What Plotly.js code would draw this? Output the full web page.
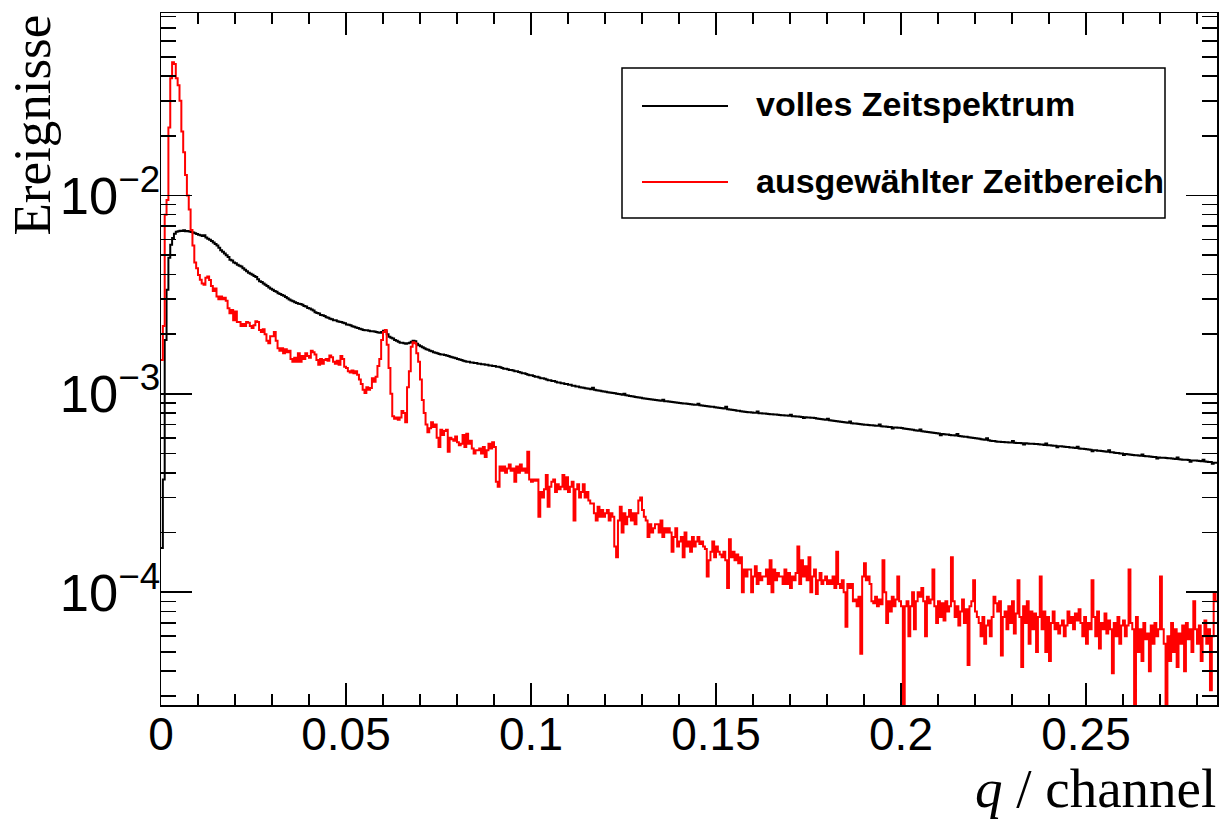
<!DOCTYPE html>
<html><head><meta charset="utf-8">
<script src="https://cdn.plot.ly/plotly-3.0.1.min.js"></script>
<style>html,body{margin:0;padding:0;background:#fff}#chart{width:1221px;height:822px}</style>
</head><body><div id="chart"></div>
<script>
// histogram binning
const binStart = 0;
const binWidth = 0.0005;
const seriesNames = ["volles Zeitspektrum", "ausgewählter Zeitbereich"];
const seriesColors = ["#000000", "#ff0000"];

// Ereignisse per bin, full time spectrum
const volles = [
0.000167,0.00037,0.00187,0.00335,0.00485,0.00564,0.0061,0.00641,0.00656,0.0066,
0.00665,0.00662,0.00668,0.0066,0.00663,0.00658,0.00655,0.0065,0.00645,0.0064,
0.00635,0.0063,0.00625,0.0063,0.00615,0.00605,0.00598,0.0059,0.0058,0.0057,
0.0056,0.00545,0.0053,0.0052,0.0051,0.005,0.0049,0.00475,0.0047,0.0046,
0.00455,0.00448,0.00442,0.00438,0.0043,0.00422,0.00415,0.00408,0.00403,0.00398,
0.00393,0.00388,0.00378,0.0037,0.00366,0.0036,0.00355,0.0035,0.00344,0.00339,
0.00335,0.0033,0.00327,0.00322,0.00319,0.00315,0.00312,0.00308,0.00303,0.00299,
0.00296,0.00293,0.0029,0.00287,0.00285,0.00284,
0.00281,0.00277,0.00276,0.00271,0.00269,0.00266,0.00263,0.00258,0.00256,
0.00254,0.0025,0.00249,0.00247,0.00243,0.00242,0.00239,
0.00238,0.00235,0.00235,0.00232,0.00231,0.0023,0.00228,
0.00227,0.00224,0.00223,0.00222,0.00219,0.00218,0.00216,0.00215,0.00213,0.00212,0.0021,
0.00209,0.00209,0.00208,0.00207,0.00207,0.00206,0.00205,
0.00204,0.00203,0.00205,
0.00208,0.00207,0.002,0.00194,
0.00192,0.0019,0.00187,0.00185,0.00183,0.00181,
0.00181,0.0018,0.00179,0.0018,0.00181,
0.00183,0.00185,0.00184,0.00179,0.00176,
0.00174,0.00172,0.0017,0.00168,0.00167,0.00165,0.00164,0.00162,
0.00161,0.0016,0.00159,0.00158,0.00158,0.00157,0.00156,0.00155,0.00154,
0.00153,0.00152,0.00151,0.0015,0.00149,0.00148,0.00147,0.00146,0.00145,
0.00145,0.00144,0.00144,0.00143,0.00143,0.00142,0.00142,0.00141,0.00141,
0.0014,0.0014,0.00139,0.00139,0.00138,0.00138,0.00137,0.00137,0.00136,
0.00135,0.00134,0.00134,0.00133,0.00132,0.00132,0.00131,
0.0013,0.0013,0.00129,0.00128,0.00127,0.00127,0.00126,0.00125,0.00124,0.00124,0.00123,0.00122,0.00122,0.00121,0.0012,0.0012,0.00119,0.00118,
0.00117,0.00117,0.00116,0.00116,0.00115,0.00114,0.00114,0.00113,0.00113,0.00112,0.00112,0.00111,0.00111,0.0011,0.0011,0.00109,0.00109,0.00108,
0.001076,0.001072,0.001068,0.001064,0.00106,0.001056,0.001075,0.001048,0.001044,0.00104,0.001036,0.001032,0.001028,0.001024,0.00102,0.001017,0.001013,0.00101,
0.001006,0.001002,0.000999,0.000995,0.000991,0.001,0.000984,0.00098,0.000976,0.000973,0.000969,0.000965,0.000962,0.000958,0.000955,0.000951,0.000948,0.000944,
0.000942,0.000939,0.000937,0.000934,0.000932,0.000929,0.000927,0.000924,0.000935,0.000919,0.000917,0.000914,0.000912,0.00091,0.000907,0.000905,0.000902,0.0009,
0.000898,0.000895,0.000893,0.000891,0.000889,0.000886,0.000884,0.000882,0.00088,0.000892,0.000875,0.000873,0.000871,0.000869,0.000866,0.000864,0.000862,0.00086,
0.000857,0.000854,0.000851,0.000848,0.000845,0.000843,0.00086,0.000837,0.000834,0.000831,0.000829,0.000826,0.000823,0.000821,0.000818,0.000815,0.000813,0.00081,
0.000808,0.000807,0.000805,0.000804,0.000802,0.000815,0.000799,0.000798,0.000796,0.000795,0.000793,0.000792,0.00079,0.000789,0.000787,0.000786,0.000784,0.000783,
0.000781,0.00078,0.000778,0.000777,0.000775,0.000785,0.000772,0.000771,0.000769,0.000768,0.000766,0.000765,0.000755,0.000762,0.00076,0.000759,0.000758,0.000757,
0.000755,0.000752,0.00075,0.000747,0.000745,0.000743,0.00074,0.00075,0.000736,0.000733,0.000731,
0.000729,0.000727,0.000725,0.000723,0.000721,0.000719,0.000717,0.000715,0.000725,0.000711,0.000709,0.000708,0.000706,0.000704,0.000702,0.0007,0.000699,0.000698,
0.000697,0.000695,0.000694,0.000692,0.000691,0.00069,0.0007,0.000687,0.000685,0.000684,0.000683,0.000681,0.00068,0.000668,0.000677,0.000676,0.000675,0.000674,
0.000672,0.000669,0.000667,0.000665,0.000663,0.000661,0.000659,0.000656,0.000654,0.000652,0.000662,0.000648,0.000646,0.000644,0.000642,0.00064,0.000638,0.000636,
0.000634,0.000633,0.000631,0.000619,0.000628,0.000626,0.000624,0.000623,0.000621,0.000619,0.000618,0.000616,0.000628,0.000613,0.000611,0.00061,0.000608,0.000607,
0.000605,0.000603,0.000601,0.000599,0.000597,0.000595,0.000593,0.000591,0.000589,0.000587,0.000598,0.000583,0.000581,0.000579,0.000578,0.000576,0.000574,0.000573,
0.000572,0.000572,0.000571,0.00057,0.000569,0.000569,0.000578,0.000567,0.000566,0.000566,0.000565,0.000564,0.000556,0.000563,0.000562,0.000561,0.00056,0.00056,
0.000559,0.000558,0.000557,0.000556,0.000555,0.000553,0.000562,0.000551,0.00055,0.000549,0.000548,0.000547,0.000538,0.000545,0.000544,0.000543,0.000541,0.00054,
0.000539,0.000537,0.000536,0.000535,0.000533,0.000541,0.000531,0.000529,0.000528,0.000527,0.000525,0.000524,0.000523,0.000514,0.00052,0.000519,0.000517,0.000516,
0.000515,0.000513,0.000512,0.000511,0.000519,0.000508,0.000507,0.000505,0.000504,0.000503,0.000501,0.0005,0.000492,0.000497,0.000496,0.000495,0.000493,0.000492,
0.000491,0.00049,0.000489,0.000488,0.000495,0.000486,0.000485,0.000484,0.000483,0.000482,0.000481,0.00048,0.000472,0.000478,0.000477,0.000476,0.000476,0.000475,
0.000474,0.000473,0.000472,0.000471,0.00047,0.000478,0.000468,0.000467,0.000466,0.000466,0.000465,0.000464,0.000455,0.000462,0.000461,0.000461,0.00046,0.000459,
0.000458,0.000465,0.000456,0.000455,0.000454,0.000453,0.000444,0.00045,0.000449
];

// Ereignisse per bin, selected time window
const ausgewaehlt = [
0.00148,0.0022,0.008,0.0095,0.022,0.039,0.047,0.046,0.039,0.036,
0.03,0.021,0.0165,0.0127,0.01,0.0085,0.0067,0.0056,0.0046,0.0043,
0.00397,0.00376,0.0036,0.00355,0.00385,0.0039,0.00375,0.0035,0.0033,0.0034,
0.0031,0.003,0.0031,0.003,0.00305,0.00295,0.0027,0.00255,0.00265,0.00235,
0.0026,0.0023,0.0023,0.0022,0.00225,0.0022,0.0023,0.00228,0.0022,0.00215,
0.00222,0.00232,0.0023,0.0021,0.00205,0.00212,0.002,0.00185,0.0018,0.00195,
0.00195,0.00205,0.00185,0.0017,0.00165,0.0017,0.0016,0.00168,0.00162,0.00165,
0.0015,0.00145,0.00152,0.00145,0.0016,0.00145,0.00155,0.0015,0.0016,0.00155,
0.00152,0.00165,0.00162,0.00158,0.00148,0.0014,0.0015,0.00142,0.00148,0.0015,
0.00147,0.00156,0.00153,0.00145,0.00142,0.00147,0.0014,0.00155,0.0015,0.00137,
0.00135,0.0013,0.00128,0.00131,0.00127,0.0013,0.00125,0.00118,0.00112,0.00105,
0.00101,0.00108,0.00105,0.00107,0.0012,0.00115,0.00122,0.00138,0.0015,0.00187,
0.00205,0.0021,0.00177,0.00135,0.001,0.00077,0.00075,0.00076,0.00074,0.00076,
0.00082,0.0008,0.00072,0.00108,0.0013,0.00173,0.00182,0.0018,0.0016,0.00145,
0.00118,0.00093,0.0008,0.0007,0.00064,0.00067,0.00072,0.00068,0.0007,0.0006,
0.00054,0.00066,0.00062,0.00065,0.00066,0.00051,0.0006,0.00059,0.00058,0.00061,
0.00057,0.00055,0.00056,0.00062,0.00054,0.00063,0.00056,0.00058,0.00053,0.0005,
0.00052,0.00052,0.00053,0.0005,0.00054,0.00048,0.00052,0.00056,0.00053,0.00057,
0.00054,0.00036,0.00034,0.00043,0.00041,0.00043,0.0004,0.00042,0.00044,0.00041,
0.00042,0.00036,0.00043,0.0004,0.00044,0.00041,0.00042,0.0004,0.00051,0.00037,
0.00036,0.00037,0.000365,0.00037,0.00024,0.00032,0.0003,0.00033,0.00039,0.00027,
0.00034,0.00036,0.00037,0.00032,0.00035,0.00033,0.00034,0.00039,0.00033,0.00038,
0.00032,0.00034,0.00036,0.00023,0.00033,0.00035,0.0003,0.00032,0.00035,0.0003,
0.00032,0.00029,0.00028,0.00028,0.00025,0.00023,0.00027,0.00024,0.00026,0.00024,
0.00025,0.00026,0.00023,0.00025,0.00024,0.00017,0.00015,0.00023,0.00027,0.0002,
0.00025,0.00022,0.00024,0.00026,0.00023,0.00025,0.00022,0.00025,0.00029,0.0003,
0.00026,0.00024,0.00023,0.00019,0.00022,0.0002,0.00021,0.00022,0.00022,0.0002,
0.00023,0.00019,0.00021,0.0002,0.00021,0.0002,0.00016,0.00019,0.00021,0.00017,
0.00018,0.00019,0.00015,0.0002,0.00017,0.00018,0.00016,0.00019,0.00017,0.00018,
0.00019,0.000175,0.00018,0.00017,0.000165,0.00012,0.000145,0.00016,0.00018,0.00015,
0.00017,0.00016,0.000155,0.00015,0.00016,0.000145,0.000105,0.000185,0.00015,0.00016,
0.000145,0.000155,0.00014,0.00015,0.0001,0.00013,0.00012,0.00013,0.00013,0.0001,
0.00012,0.000135,0.00011,0.000125,0.000115,0.00012,0.00012,0.00013,0.00011,0.000145,
0.0001,0.00013,0.000115,0.000125,0.00012,0.00012,0.00011,0.00013,0.00011,0.000125,
0.000105,0.00012,0.000115,0.000125,0.00017,0.00011,0.000145,0.00012,0.000135,0.000115,
0.00015,0.0001,0.00012,0.00013,0.000098,0.000115,0.000125,0.00011,0.000115,0.00012,
0.00011,0.000115,0.00011,0.00012,0.000105,0.00016,0.00011,0.000105,0.000115,0.0001,
0.000067,0.00011,0.000105,0.00011,0.00009,0.000092,0.000085,0.000095,0.000049,0.00012,
0.00014,0.000115,0.00012,0.00011,0.00009,0.000088,0.000095,0.000085,0.000092,0.000087,
0.000145,0.0001,0.00007,0.00009,0.00008,0.000095,0.000085,0.000092,0.00012,0.00009,
0.000085,0.00002,0.000085,0.00009,0.00006,0.000085,0.0001,0.000065,0.00009,0.0001,
0.000095,0.000105,0.00009,0.00006,0.000095,0.000088,0.000092,0.00013,0.000085,0.00007,
0.00009,0.000075,0.000088,0.000072,0.00009,0.00008,0.000085,0.00015,0.00009,0.000075,
0.000085,0.000068,0.00008,0.000092,0.00007,0.000082,0.000043,0.000085,0.00009,0.000115,
0.00008,0.000075,0.00007,0.00006,0.000075,0.000055,0.000068,0.000072,0.00006,0.000075,
0.000095,0.000088,0.00008,0.00009,0.000048,0.000075,0.00008,0.000065,0.000085,0.00007,
0.00009,0.000062,0.000078,0.000115,0.000075,0.000042,0.000085,0.00007,0.00009,0.000055,
0.00008,0.000065,0.000078,0.00005,0.000075,0.00012,0.000065,0.00008,0.00005,0.000075,
0.000045,0.00007,0.00008,0.000065,0.00007,0.000062,0.000068,0.000072,0.00006,0.000068,
0.00008,0.00007,0.000075,0.000065,0.000078,0.000072,0.000082,0.00007,0.00006,0.000075,
0.000055,0.00007,0.000065,0.000115,0.000075,0.00006,0.00008,0.000052,0.00007,0.000065,
0.000078,0.000062,0.000072,0.000065,0.000039,0.00007,0.00006,0.000075,0.000055,0.000068,
0.000072,0.00006,0.000068,0.00013,0.00007,0.000065,0.00002,0.000075,0.00005,0.000065,
0.000045,0.00007,0.000058,0.000062,0.00004,0.000068,0.000055,0.00007,0.00006,0.000065,
0.00012,0.000065,0.000055,0.00002,0.00006,0.000045,0.00007,0.00005,0.000065,0.000042,
0.000062,0.000055,0.000068,0.00004,0.00007,0.000058,0.000065,0.00005,0.00009,0.000065,
0.000055,0.000068,0.000045,0.00006,0.000072,0.000055,0.000065,0.000032,0.00006,0.0001,
0.00009
];

const xTickVals = [0, 0.05, 0.1, 0.15, 0.2, 0.25];
const xTickText = ["0", "0.05", "0.1", "0.15", "0.2", "0.25"];
const xRange = [0, 0.2854];
const yRangeValues = [2.7e-5, 0.0832];

function binEdges(n) {
  const e = [];
  for (let i = 0; i <= n; i++) e.push(+(binStart + i * binWidth).toFixed(6));
  return e;
}
function stepTrace(vals, name, color) {
  return {
    type: 'scatter', mode: 'lines', name: name,
    x: binEdges(vals.length),
    y: vals.concat([vals[vals.length - 1]]),
    line: {shape: 'hv', color: color, width: 2},
    showlegend: false, hoverinfo: 'skip'
  };
}

const traces = [
  stepTrace(volles, seriesNames[0], seriesColors[0]),
  stepTrace(ausgewaehlt, seriesNames[1], seriesColors[1])
];

// layout geometry (pixels)
const W = 1221, H = 822;
const M = {l: 161, r: 4, t: 13, b: 117};
const PW = W - M.l - M.r, PH = H - M.t - M.b;
const px = x => (x - M.l) / PW;
const py = y => 1 - (y - M.t) / PH;

const sans = 'Liberation Sans, Arial, Helvetica, sans-serif';
const serif = 'Liberation Serif, Times New Roman, serif';
const legFont = {family: sans, size: 34, color: '#000', weight: 'bold'};

const layout = {
  width: W, height: H,
  margin: M,
  paper_bgcolor: '#fff', plot_bgcolor: '#fff',
  showlegend: false,
  xaxis: {
    range: xRange, showgrid: false, zeroline: false,
    showline: true, linecolor: '#000', linewidth: 1.5, mirror: 'allticks',
    ticks: 'inside', ticklen: 22, tickwidth: 1.5, tickcolor: '#000',
    tickvals: xTickVals, ticktext: xTickText,
    tickfont: {family: sans, size: 46, color: '#000'},
    ticklabelstandoff: -12,
    minor: {ticks: 'inside', ticklen: 11, tickwidth: 1.5, tickcolor: '#000', dtick: 0.01, tick0: 0, showgrid: false}
  },
  yaxis: {
    type: 'log', range: [Math.log10(yRangeValues[0]), Math.log10(yRangeValues[1])],
    showgrid: false, zeroline: false,
    showline: true, linecolor: '#000', linewidth: 1.5, mirror: 'allticks',
    ticks: 'inside', ticklen: 31, tickwidth: 1.5, tickcolor: '#000',
    dtick: 1, exponentformat: 'power',
    tickfont: {family: sans, size: 42, color: '#000'},
    ticklabelstandoff: -9,
    minor: {ticks: 'inside', ticklen: 15, tickwidth: 1.5, tickcolor: '#000', dtick: 'D1', showgrid: false}
  },
  shapes: [
    {type: 'rect', xref: 'paper', yref: 'paper', x0: px(622), x1: px(1165), y0: py(218), y1: py(68),
     line: {color: '#000', width: 1.5}, fillcolor: 'rgba(0,0,0,0)'},
    {type: 'line', xref: 'paper', yref: 'paper', x0: px(642), x1: px(728), y0: py(106), y1: py(106),
     line: {color: seriesColors[0], width: 2}},
    {type: 'line', xref: 'paper', yref: 'paper', x0: px(642), x1: px(728), y0: py(182), y1: py(182),
     line: {color: seriesColors[1], width: 2}}
  ],
  annotations: [
    {text: seriesNames[0], xref: 'paper', yref: 'paper', x: px(754), y: py(104), xanchor: 'left', yanchor: 'middle',
     showarrow: false, font: legFont},
    {text: seriesNames[1], xref: 'paper', yref: 'paper', x: px(754), y: py(181), xanchor: 'left', yanchor: 'middle',
     showarrow: false, font: legFont},
    {text: 'Ereignisse', xref: 'paper', yref: 'paper', x: px(31), y: py(13), xanchor: 'center', yanchor: 'top',
     textangle: -90, showarrow: false, font: {family: serif, size: 53, color: '#000'}},
    {text: '<i>q</i> / channel', xref: 'paper', yref: 'paper', x: px(1218), y: py(821), xanchor: 'right', yanchor: 'bottom',
     showarrow: false, font: {family: serif, size: 55, color: '#000'}}
  ]
};

Plotly.newPlot('chart', traces, layout, {staticPlot: true, displayModeBar: false});
</script>
</body></html>
